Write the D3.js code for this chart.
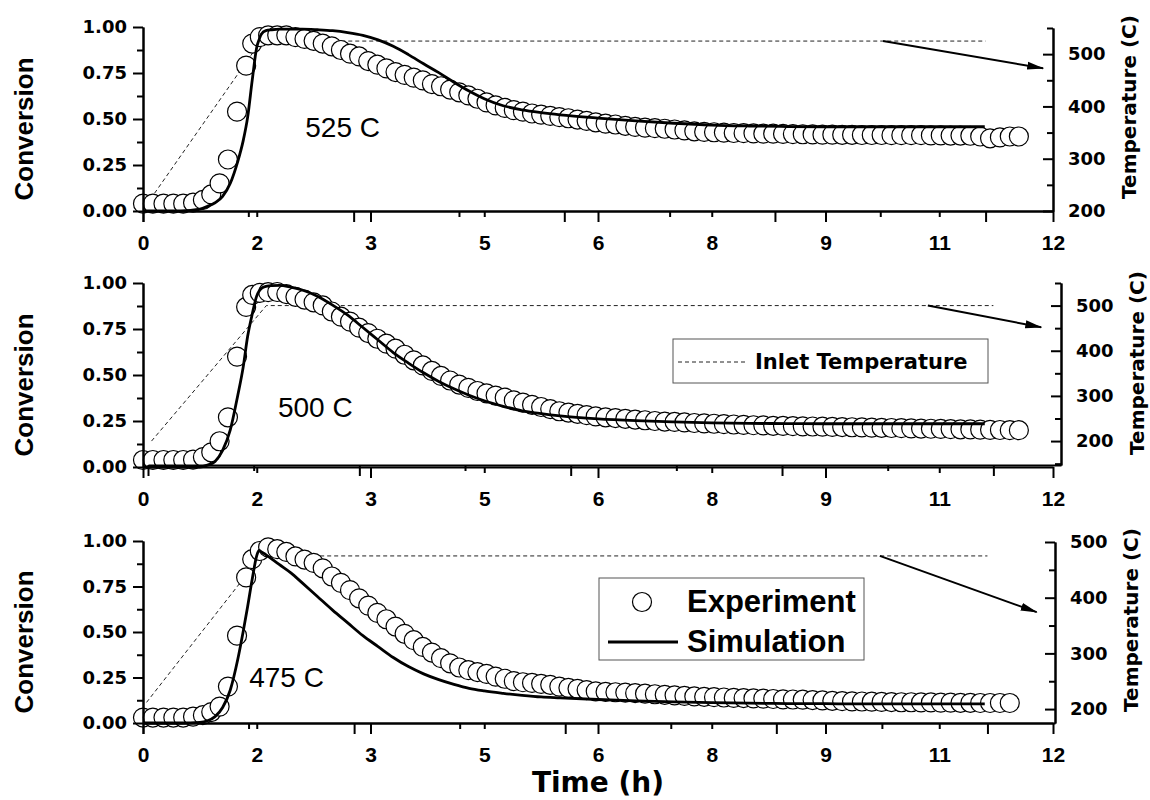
<!DOCTYPE html>
<html>
<head>
<meta charset="utf-8">
<script src="https://cdn.jsdelivr.net/npm/d3@7"></script>
<style>
  body { margin: 0; background: #fff; }
</style>
</head>
<body>
<svg id="chart" width="1150" height="800"></svg>
<script>
// ---- data ----
const panelLabels = ["525 C", "500 C", "475 C"];

// sampling times of the experiment (h)
const expTime = [0.00,0.13,0.27,0.40,0.53,0.66,0.79,0.90,1.01,1.12,1.24,1.36,1.44,1.54,1.65,1.77,1.89,
  2.01,2.13,2.25,2.37,2.49,2.61,2.73,2.85,2.97,3.09,3.21,3.33,3.45,3.57,3.69,3.81,3.93,4.05,4.17,4.29,
  4.41,4.53,4.65,4.77,4.89,5.01,5.13,5.25,5.37,5.49,5.61,5.73,5.85,5.97,
  6.10,6.23,6.36,6.49,6.62,6.75,6.88,7.01,7.14,7.27,7.40,7.53,7.66,7.79,7.92,8.05,8.18,8.31,8.44,8.57,
  8.70,8.83,8.96,9.09,9.22,9.35,9.48,9.61,9.74,9.87,10.00,10.13,10.26,10.39,10.52,10.65,10.78,10.91,
  11.04,11.17,11.30,11.43,11.55];

const exp525 = [.04,.04,.04,.04,.04,.045,.06,.09,.15,.28,.54,.79,.91,.945,.955,.955,.955,
  .945,.935,.925,.91,.895,.875,.855,.84,.815,.795,.775,.755,.74,.725,.71,.69,.678,.66,.645,.628,
  .61,.59,.574,.56,.548,.54,.53,.524,.517,.51,.504,.497,.49,.482,
  .475,.47,.463,.457,.453,.45,.447,.443,.438,.433,.43,.428,.426,.424,.423,.422,.42,.42,.419,.418,
  .417,.416,.415,.415,.414,.414,.413,.413,.413,.412,.412,.412,.412,.411,.411,.41,.41,.409,
  .405,.395,.40,.405,.405];

const exp500 = [.038,.038,.038,.038,.038,.04,.054,.08,.14,.27,.60,.87,.935,.946,.95,.951,.94,
  .925,.91,.895,.878,.845,.817,.79,.757,.728,.697,.67,.643,.61,.58,.552,.522,.495,.47,.448,.43,
  .413,.40,.388,.377,.362,.35,.338,.326,.315,.303,.296,.289,.282,.275,
  .27,.266,.262,.258,.254,.25,.247,.245,.242,.239,.237,.235,.233,.231,.229,.227,.226,.224,.223,.222,
  .221,.22,.219,.218,.217,.216,.215,.214,.213,.212,.211,.21,.209,.208,.207,.206,.205,.204,
  .203,.202,.201,.20,.20];

const exp475 = [.03,.03,.03,.03,.03,.035,.043,.06,.09,.2,.48,.80,.90,.945,.965,.955,.94,
  .915,.898,.88,.85,.805,.77,.73,.685,.645,.605,.57,.53,.49,.455,.418,.387,.356,.328,.305,.29,
  .28,.27,.255,.243,.23,.224,.22,.215,.21,.20,.193,.188,.181,.174,
  .171,.169,.167,.164,.161,.158,.155,.152,.149,.146,.144,.142,.14,.138,.137,.135,.134,.132,.13,.129,
  .128,.126,.124,.122,.12,.119,.118,.117,.116,.115,.114,.114,.113,.113,.112,.112,.111,.111,
  .11,.11,.11,.11];

// simulation curves (h, conversion)
const simTime = [0,0.5,0.75,0.85,0.95,1.05,1.15,1.25,1.32,1.38,1.44,1.50,1.53,1.56,1.62,1.70,1.80,1.95,
  2.1,2.3,2.5,2.7,2.9,3.1,3.3,3.5,3.7,3.9,4.1,4.3,4.5,4.75,5.0,5.25,5.5,6.0,6.5,7.0,7.5,8.0,8.5,9.0,
  9.5,10.0,10.5,11.1];

const sim525 = [0,0,.01,.025,.045,.08,.15,.27,.38,.51,.71,.89,.93,.96,.98,.985,.988,.988,
  .988,.985,.98,.97,.955,.93,.895,.85,.8,.752,.70,.652,.61,.572,.55,.535,.523,.505,.49,.477,.467,.462,
  .459,.458,.458,.458,.458,.458];
const sim500 = [0,0,0,.01,.03,.09,.2,.39,.54,.71,.83,.93,.955,.97,.982,.986,.987,.977,
  .962,.928,.88,.825,.758,.69,.622,.565,.512,.465,.425,.39,.36,.33,.305,.29,.278,.262,.252,.245,.24,.237,
  .236,.235,.235,.235,.235,.235];
const sim475 = [0,0,.003,.012,.035,.085,.18,.35,.50,.64,.79,.92,.949,.94,.925,.90,.87,.825,
  .77,.695,.62,.55,.48,.42,.36,.31,.27,.238,.212,.19,.176,.163,.152,.143,.138,.129,.122,.116,.112,.109,
  .107,.106,.105,.105,.105,.105];

// inlet temperature program (h, C)
const tempTime = [0.05, 1.68, 12.0];
const temp525 = [212, 525, 525];
const temp500 = [200, 500, 500];
const temp475 = [212, 475, 475];

// annotation arrows: [time, temperature]
const arrowFrom = [[10.54, 525], [11.07, 500], [10.47, 475]];
const arrowTo = [[12.82, 473], [12.68, 452], [12.70, 374]];

// where the panel text sits: [time, conversion]
const labelAt = [[2.14, 0.40], [1.78, 0.27], [1.40, 0.197]];

const xTicks = [0, 1.5, 3, 4.5, 6, 7.5, 9, 10.5, 12];
const convTicks = [0, 0.25, 0.5, 0.75, 1];
const convMinor = [0.125, 0.375, 0.625, 0.875];
const tempTicks = [200, 300, 400, 500];
const tempMinor = [150, 250, 350, 450, 550];

// ---- layout ----
const panels = [
  {exp: exp525, sim: sim525, temp: temp525, tempDomain: [200, 550],
   convRange: [211, 27], tempRange: [211, 28], tempX: [143, 1053]},
  {exp: exp500, sim: sim500, temp: temp500, tempDomain: [147, 550],
   convRange: [467, 283], tempRange: [465, 283], tempX: [148, 1061]},
  {exp: exp475, sim: sim475, temp: temp475, tempDomain: [175, 500],
   convRange: [723, 541], tempRange: [723, 542], tempX: [143, 1055]}
];

const boldWide = "'DejaVu Sans', sans-serif";
const arial = "'Liberation Sans', Arial, sans-serif";

const svg = d3.select("#chart");

svg.append("defs").append("marker")
    .attr("id", "head")
    .attr("markerUnits", "userSpaceOnUse")
    .attr("viewBox", "0 -5 17 10")
    .attr("refX", 16)
    .attr("refY", 0)
    .attr("markerWidth", 17)
    .attr("markerHeight", 10)
    .attr("orient", "auto")
  .append("path")
    .attr("d", "M0,-4L17,0L0,4Z")
    .attr("fill", "#000");

const x = d3.scaleLinear().domain([0, 12]).range([143, 1053]);

function styleAxis(g, fontSize, family) {
  g.attr("font-size", fontSize)
   .attr("font-family", family)
   .attr("font-weight", "bold");
  g.selectAll("path, line").attr("stroke", "#000").attr("stroke-width", 2);
  g.selectAll("text").attr("fill", "#000");
}

panels.forEach((p, i) => {
  const y = d3.scaleLinear().domain([0, 1]).range(p.convRange);
  const yT = d3.scaleLinear().domain(p.tempDomain).range(p.tempRange);
  const xT = d3.scaleLinear().domain([0, 12.96]).range(p.tempX);
  const g = svg.append("g");

  // inlet temperature (dashed)
  g.append("path")
      .datum(tempTime.map((t, j) => [t, p.temp[j]]))
      .attr("fill", "none")
      .attr("stroke", "#222")
      .attr("stroke-width", 1)
      .attr("stroke-dasharray", "4,3")
      .attr("d", d3.line().x(d => xT(d[0])).y(d => yT(d[1])));

  // arrow pointing at the temperature axis
  g.append("line")
      .attr("x1", xT(arrowFrom[i][0])).attr("y1", yT(arrowFrom[i][1]))
      .attr("x2", xT(arrowTo[i][0])).attr("y2", yT(arrowTo[i][1]))
      .attr("stroke", "#000")
      .attr("stroke-width", 2)
      .attr("marker-end", "url(#head)");

  // experiment points
  g.selectAll(".pt")
    .data(p.exp.map((c, j) => [expTime[j], c]))
    .join("circle")
      .attr("class", "pt")
      .attr("cx", d => x(d[0]))
      .attr("cy", d => y(d[1]))
      .attr("r", 9.5)
      .attr("fill", "#fff")
      .attr("stroke", "#000")
      .attr("stroke-width", 1.2);

  // simulation
  g.append("path")
      .datum(p.sim.map((c, j) => [simTime[j], c]))
      .attr("fill", "none")
      .attr("stroke", "#000")
      .attr("stroke-width", 2.8)
      .attr("stroke-linejoin", "round")
      .attr("d", d3.line().curve(d3.curveMonotoneX).x(d => x(d[0])).y(d => y(d[1])));

  // panel label
  g.append("text")
      .attr("x", x(labelAt[i][0]))
      .attr("y", y(labelAt[i][1]))
      .attr("font-family", arial)
      .attr("font-size", 28)
      .text(panelLabels[i]);

  // temperature layer bottom axis (no labels)
  const tBottom = g.append("g")
      .attr("transform", `translate(0,${p.tempRange[0]})`)
      .call(d3.axisBottom(xT).tickValues(xTicks).tickFormat("").tickSize(11).tickSizeOuter(0));
  styleAxis(tBottom, 10, arial);
  tBottom.selectAll(".tick line").attr("y2", d => d % 3 === 0 ? 11 : 6);

  // time axis
  const bottom = g.append("g")
      .attr("transform", `translate(0,${p.convRange[0]})`)
      .call(d3.axisBottom(x).tickValues(xTicks).tickFormat(d3.format(".0f")).tickSize(11).tickSizeOuter(0));
  styleAxis(bottom, 21, arial);
  bottom.selectAll(".tick line").attr("y2", d => d % 3 === 0 ? 11 : 6);
  bottom.selectAll(".tick text").attr("y", 39).attr("dy", null);

  // conversion axis
  const left = g.append("g")
      .attr("transform", "translate(143,0)")
      .call(d3.axisLeft(y).tickValues(convTicks).tickFormat(d3.format(".2f")).tickSize(10).tickPadding(6).tickSizeOuter(0));
  styleAxis(left, 18, boldWide);
  const leftMinor = g.append("g")
      .attr("transform", "translate(143,0)")
      .call(d3.axisLeft(y).tickValues(convMinor).tickFormat("").tickSize(6).tickSizeOuter(0));
  styleAxis(leftMinor, 10, boldWide);

  // temperature axis (ticks point inward)
  const inDom = v => v >= p.tempDomain[0] && v <= p.tempDomain[1] + 1;
  const right = g.append("g")
      .attr("transform", `translate(${p.tempX[1]},0)`)
      .call(d3.axisRight(yT).tickValues(tempTicks.filter(inDom)).tickSize(-10).tickPadding(15).tickSizeOuter(0));
  styleAxis(right, 18, boldWide);
  const rightMinor = g.append("g")
      .attr("transform", `translate(${p.tempX[1]},0)`)
      .call(d3.axisRight(yT).tickValues(tempMinor.filter(inDom)).tickFormat("").tickSize(-6).tickSizeOuter(0));
  styleAxis(rightMinor, 10, boldWide);

  // axis titles
  const mid = (p.convRange[0] + p.convRange[1]) / 2;
  g.append("text")
      .attr("transform", `translate(33,${mid + 10}) rotate(-90)`)
      .attr("text-anchor", "middle")
      .attr("font-family", arial)
      .attr("font-weight", "bold")
      .attr("font-size", 26)
      .text("Conversion");

  g.append("text")
      .attr("transform", `translate(${p.tempX[1] + 83},${mid - 12}) rotate(-90)`)
      .attr("text-anchor", "middle")
      .attr("font-family", boldWide)
      .attr("font-weight", "bold")
      .attr("font-size", 20)
      .text("Temperature (C)");
});

// x title
svg.append("text")
    .attr("x", 598)
    .attr("y", 792)
    .attr("text-anchor", "middle")
    .attr("font-family", boldWide)
    .attr("font-weight", "bold")
    .attr("font-size", 28)
    .text("Time (h)");

// legend: inlet temperature (middle panel)
const leg1 = svg.append("g");
leg1.append("rect")
    .attr("x", 673).attr("y", 339).attr("width", 315).attr("height", 44)
    .attr("fill", "#fff").attr("stroke", "#555").attr("stroke-width", 1);
leg1.append("line")
    .attr("x1", 678).attr("x2", 746).attr("y1", 362).attr("y2", 362)
    .attr("stroke", "#222").attr("stroke-width", 1).attr("stroke-dasharray", "4,3");
leg1.append("text")
    .attr("x", 755).attr("y", 369)
    .attr("font-family", boldWide).attr("font-weight", "bold").attr("font-size", 21)
    .text("Inlet Temperature");

// legend: experiment / simulation (bottom panel)
const leg2 = svg.append("g");
leg2.append("rect")
    .attr("x", 599).attr("y", 578).attr("width", 265).attr("height", 82)
    .attr("fill", "#fff").attr("stroke", "#555").attr("stroke-width", 1);
leg2.append("circle")
    .attr("cx", 642).attr("cy", 602).attr("r", 9.5)
    .attr("fill", "#fff").attr("stroke", "#000").attr("stroke-width", 1.2);
leg2.append("line")
    .attr("x1", 608).attr("x2", 678).attr("y1", 642).attr("y2", 642)
    .attr("stroke", "#000").attr("stroke-width", 2.8);
leg2.append("text")
    .attr("x", 687).attr("y", 612)
    .attr("font-family", arial).attr("font-weight", "bold").attr("font-size", 31)
    .text("Experiment");
leg2.append("text")
    .attr("x", 687).attr("y", 652)
    .attr("font-family", arial).attr("font-weight", "bold").attr("font-size", 31)
    .text("Simulation");
</script>
</body>
</html>
